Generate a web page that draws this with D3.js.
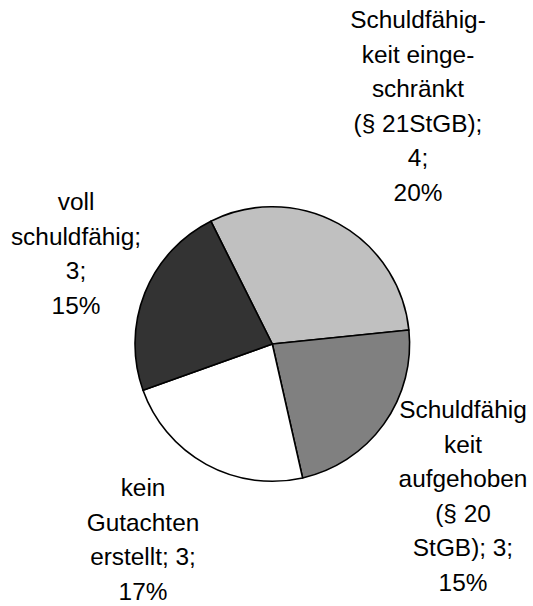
<!DOCTYPE html>
<meta charset="utf-8">
<title>Schuldfähigkeit</title>
<style>

body {
  margin: 0;
  background: #fff;
}

text {
  font-family: "Liberation Sans", Arial, sans-serif;
  font-size: 24.4px;
  fill: #000;
}

</style>
<body>
<script src="https://cdn.jsdelivr.net/npm/d3@7/dist/d3.min.js"></script>
<script>
var w = 533,
    h = 606;

// data, in the order the slices run clockwise
var categories = ["eingeschraenkt", "aufgehoben", "keinGutachten", "voll"];
var counts = [4, 3, 3, 3];
var colors = ["#c0c0c0", "#808080", "#ffffff", "#333333"];
var labelLines = [
  ["Schuldfähig-", "keit einge-", "schränkt", "(§ 21StGB);", "4;", "20%"],
  ["Schuldfähig", "keit", "aufgehoben", "(§ 20", "StGB); 3;", "15%"],
  ["kein", "Gutachten", "erstellt; 3;", "17%"],
  ["voll", "schuldfähig;", "3;", "15%"]
];

// where each label block sits (centre x, first baseline y)
var labelAnchor = [[418, 28], [463, 418], [143, 496], [76, 210]];
var lineStep = 34.6;

var cx = 272.3,
    cy = 344,
    r = 137.3,
    start = -26.6 * Math.PI / 180;

var svg = d3.select("body").append("svg")
    .attr("width", w)
    .attr("height", h);

var pie = d3.pie()
    .sort(null)
    .startAngle(start)
    .endAngle(start + 2 * Math.PI);

var arc = d3.arc()
    .innerRadius(0)
    .outerRadius(r);

var g = svg.append("g")
    .attr("transform", "translate(" + cx + "," + cy + ")");

g.selectAll("path")
    .data(pie(counts))
  .enter().append("path")
    .attr("d", arc)
    .style("fill", function(d, i) { return colors[i]; })
    .style("stroke", "#000")
    .style("stroke-width", 1.6)
    .style("stroke-linejoin", "round");

var labels = svg.selectAll("g.label")
    .data(categories)
  .enter().append("g")
    .attr("class", "label")
    .attr("transform", function(d, i) { return "translate(" + labelAnchor[i][0] + "," + labelAnchor[i][1] + ")"; });

labels.each(function(d, i) {
  d3.select(this).selectAll("text")
      .data(labelLines[i])
    .enter().append("text")
      .attr("text-anchor", "middle")
      .attr("y", function(t, j) { return j * lineStep; })
      .text(function(t) { return t; });
});
</script>
